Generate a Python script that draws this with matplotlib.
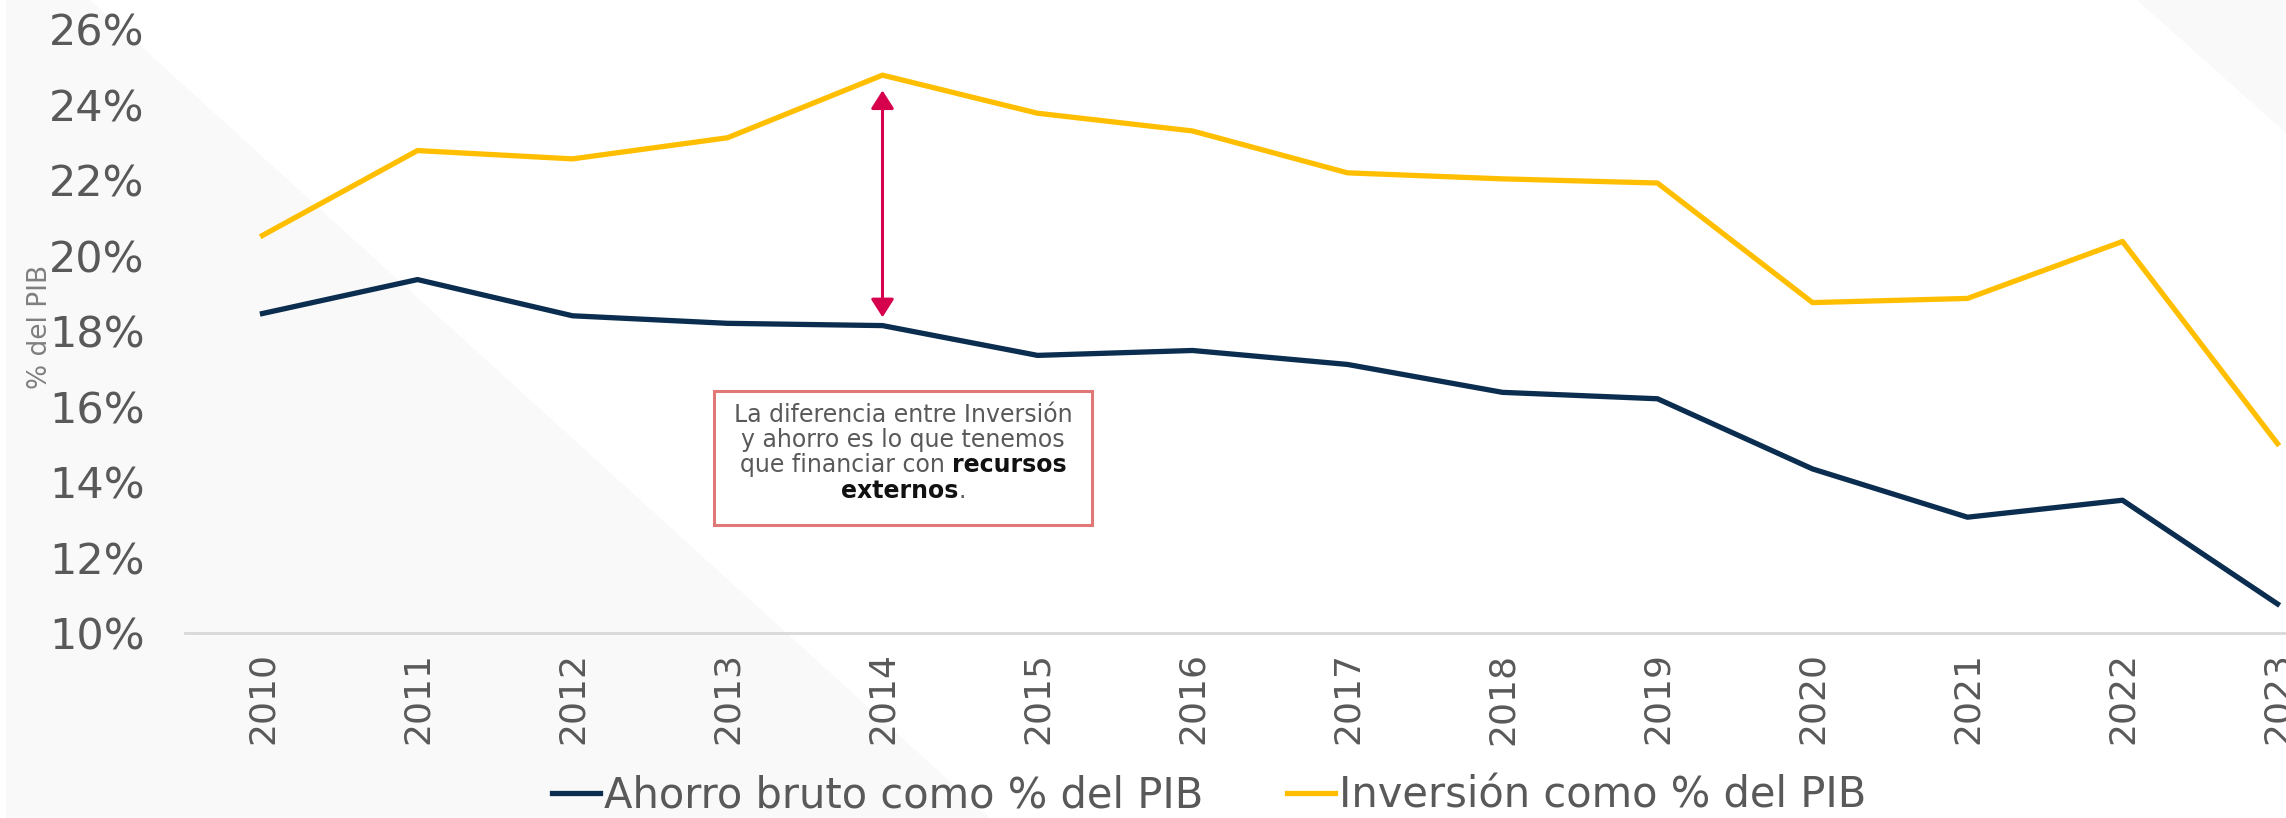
import matplotlib
matplotlib.use("Agg")
import matplotlib.pyplot as plt
from matplotlib.patches import Polygon, Rectangle
from matplotlib.lines import Line2D

# Data (% of GDP)
years = ['2010', '2011', '2012', '2013', '2014', '2015', '2016',
         '2017', '2018', '2019', '2020', '2021', '2022', '2023']
ahorro = [18.47, 19.37, 18.41, 18.21, 18.15, 17.36, 17.49,
          17.12, 16.38, 16.21, 14.35, 13.07, 13.52, 10.77]
inversion = [20.54, 22.79, 22.57, 23.13, 24.79, 23.78, 23.31,
             22.20, 22.04, 21.93, 18.76, 18.87, 20.38, 15.02]
yticks = [10, 12, 14, 16, 18, 20, 22, 24, 26]

labels = ['Ahorro bruto como % del PIB', 'Inversión como % del PIB']
note_lines = [
    [('La diferencia entre Inversión', 'normal')],
    [('y ahorro es lo que tenemos', 'normal')],
    [('que financiar con', 'normal'), ('recursos', 'bold')],
    [('externos', 'bold'), ('.', 'normal')],
]

NAVY = '#0b2d4f'
GOLD = '#ffbf00'
GREY = '#595959'
BG = '#f9f9f9'

W, H = 2286, 818
fig = plt.figure(figsize=(W / 100, H / 100), dpi=100)
fig.patch.set_facecolor('white')

# light grey decorative triangles in the background
fig.patches.append(Polygon([(6 / W, 1), (90 / W, 1), (990 / W, 0), (6 / W, 0)],
                           closed=True, transform=fig.transFigure,
                           facecolor=BG, edgecolor='none', zorder=-10))
fig.patches.append(Polygon([(2137 / W, 1), (1, 1), (1, 1 - 133 / H)],
                           closed=True, transform=fig.transFigure,
                           facecolor=BG, edgecolor='none', zorder=-10))

# axes runs a bit past the right edge, like the cropped original
ax = fig.add_axes([185 / W, 1 - 633 / H, (2355 - 185) / W, (633 - 29.5) / H])
ax.set_facecolor('none')

x = list(range(len(years)))
ax.plot(x, ahorro, color=NAVY, lw=3.8, zorder=3)
ax.plot(x, inversion, color=GOLD, lw=3.8, zorder=3)

ax.set_xlim(-0.5, len(years) - 0.5)
ax.set_ylim(10, 26)
ax.set_xticks(x)
ax.set_xticklabels(years, rotation=90, fontsize=26, color=GREY)
ax.set_yticks(yticks)
ax.set_yticklabels([f'{v}%' for v in yticks], fontsize=31, color=GREY)
ax.tick_params(axis='x', length=0, pad=14)
ax.tick_params(axis='y', length=0, pad=29)

for side in ['top', 'right', 'left']:
    ax.spines[side].set_visible(False)
ax.spines['bottom'].set_color('#d9d9d9')
ax.spines['bottom'].set_linewidth(2)

fig.text(40 / W, 1 - 327 / H, '% del PIB', rotation=90, ha='center',
         va='center', fontsize=19, color='#7f7f7f')

# double arrow showing the gap in 2014
ax.annotate('', xy=(4, inversion[4]), xytext=(4, ahorro[4]),
            arrowprops=dict(arrowstyle='<|-|>,head_length=0.55,head_width=0.35',
                            color='#d6004c', lw=2.2, shrinkA=6, shrinkB=11,
                            mutation_scale=20), zorder=4)

# note box
ax.add_patch(Rectangle((0.2438, 0.179), 0.1742, 0.222, transform=ax.transAxes,
                       facecolor='white', edgecolor='#e07878', lw=2.2,
                       clip_on=False, zorder=2))

renderer = fig.canvas.get_renderer()
cx = 0.3309
line_y = [0.3604, 0.3198, 0.2784, 0.2353]
fs = 17


def width_px(s, weight):
    t = fig.text(0, 0, s, fontsize=fs, weight=weight)
    w = t.get_window_extent(renderer).width
    t.remove()
    return w


space = width_px('x x', 'normal') - width_px('xx', 'normal')
for parts, yy in zip(note_lines, line_y):
    widths = [width_px(s, wt) for s, wt in parts]
    gaps = [0.0] + [0.0 if s == '.' else space for s, _ in parts[1:]]
    total = sum(widths) + sum(gaps)
    px_c, px_y = ax.transAxes.transform((cx, yy))
    xpos = px_c - total / 2
    for (s, wt), w, g in zip(parts, widths, gaps):
        xpos += g
        ax_x, ax_y = ax.transAxes.inverted().transform((xpos, px_y))
        ax.text(ax_x, ax_y, s, transform=ax.transAxes, fontsize=fs,
                weight=wt, color=GREY if wt == 'normal' else '#111111',
                ha='left', va='center', zorder=5)
        xpos += w

handles = [Line2D([], [], color=NAVY, lw=3.8), Line2D([], [], color=GOLD, lw=3.8)]
leg = fig.legend(handles, labels, loc='center', bbox_to_anchor=(0.529, 0.027),
                 ncol=2, frameon=False, fontsize=30, handlelength=1.15,
                 handletextpad=0.1, columnspacing=2.0)
for t in leg.get_texts():
    t.set_color(GREY)

fig.savefig('out.png', dpi=100, facecolor=fig.get_facecolor())
